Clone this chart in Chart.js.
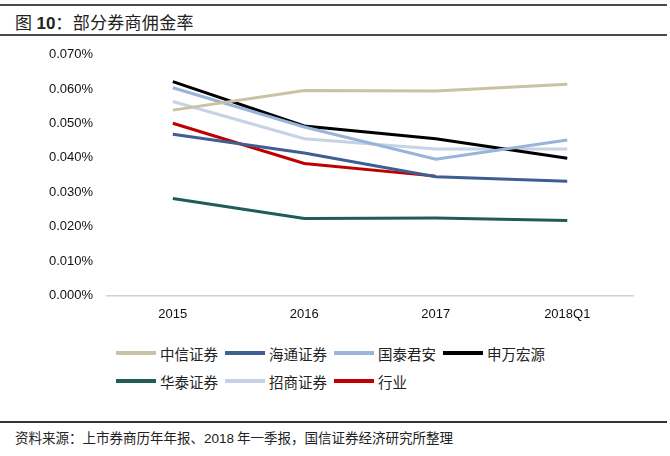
<!DOCTYPE html>
<html>
<head>
<meta charset="utf-8">
<script src="https://cdn.jsdelivr.net/npm/chart.js@4.4.1/dist/chart.umd.min.js"></script>
<style>
    body { margin:0; background:#fff; }
    #page { position:relative; width:670px; height:456px; background:#fff; overflow:hidden; font-family:"Noto Sans CJK SC", "Liberation Sans", sans-serif; color:#222; }
    .rule { position:absolute; left:0; width:667px; background:#4a4a4a; }
    #title { position:absolute; left:15px; top:8px; font-size:17px; line-height:28px; letter-spacing:0.3px; white-space:nowrap; }
    #title b { font-family:"Liberation Sans", Arial, sans-serif; font-weight:bold; letter-spacing:0; }
    #chart_box { position:absolute; left:0; top:33px; width:670px; height:300px; }
    #legend_box { position:absolute; left:116px; top:339px; width:440px; display:flex; flex-wrap:wrap; }
    .legend_item { display:flex; align-items:center; width:109px; height:28px; font-size:14.5px; white-space:nowrap; }
    .legend_line { display:inline-block; width:40px; height:4px; margin-right:4px; }
    #source { position:absolute; left:15px; top:427px; font-size:13.5px; line-height:20px; white-space:nowrap; }
    #source span { font-family:"Liberation Sans", Arial, sans-serif; }
</style>
</head>
<body>
<div id="page">
    <div class="rule" style="top:4px;height:2px;"></div>
    <div id="title">图 <b>10</b>：部分券商佣金率</div>
    <div class="rule" style="top:34px;height:2px;"></div>
    <div id="chart_box"><canvas id="chart_rate"></canvas></div>
    <div id="legend_box"></div>
    <div class="rule" style="top:421px;height:1.5px;background:#333;"></div>
    <div id="source">资料来源：上市券商历年年报、<span>2018</span> 年一季报，国信证券经济研究所整理</div>
</div>
<script>
var categories = ["2015", "2016", "2017", "2018Q1"];

// commission rate, %
var citic    = [0.0539, 0.0596, 0.0595, 0.0614];
var haitong  = [0.0469, 0.0414, 0.0345, 0.0332];
var gtja     = [0.0604, 0.0490, 0.0396, 0.0452];
var swhy     = [0.0622, 0.0493, 0.0456, 0.0399];
var huatai   = [0.0282, 0.0224, 0.0225, 0.0218];
var cms      = [0.0564, 0.0456, 0.0426, 0.0426];
var industry = [0.0501, 0.0384, 0.0347, null];

var yTicks = [0, 0.01, 0.02, 0.03, 0.04, 0.05, 0.06, 0.07];

var seriesList = [
    {name: "中信证券", data: citic,    color: "#c7c3a3"},
    {name: "海通证券", data: haitong,  color: "#3f5e92"},
    {name: "国泰君安", data: gtja,     color: "#98b4d8"},
    {name: "申万宏源", data: swhy,     color: "#000000"},
    {name: "华泰证券", data: huatai,   color: "#1f5c5a"},
    {name: "招商证券", data: cms,      color: "#c6d3e7"},
    {name: "行业",     data: industry, color: "#c00000"}
];

var datasets = [];
for (let s of seriesList) {
    datasets.push({
        label: s.name,
        data: s.data,
        borderColor: s.color,
        backgroundColor: s.color,
        borderWidth: 3,
        pointRadius: 0,
        pointHoverRadius: 0,
        tension: 0,
        fill: false,
        spanGaps: false
    });
}

// legend in two rows, built by hand
var legendBox = document.getElementById("legend_box");
for (let s of seriesList) {
    let item = document.createElement("span");
    item.className = "legend_item";
    let line = document.createElement("span");
    line.className = "legend_line";
    line.style.background = s.color;
    let text = document.createElement("span");
    text.innerText = s.name;
    item.appendChild(line);
    item.appendChild(text);
    legendBox.appendChild(item);
}

var chartOptions = {
    responsive: true,
    maintainAspectRatio: false,
    animation: false,
    layout: {
        padding: {left: 35, right: 37, top: 8, bottom: 0}
    },
    plugins: {
        legend: {display: false},
        tooltip: {enabled: false}
    },
    scales: {
        x: {
            type: "category",
            offset: true,
            grid: {display: false, drawTicks: false},
            border: {display: true, color: "#d0d0d0", width: 1.5},
            ticks: {
                color: "#111",
                padding: 11,
                font: {family: "Liberation Sans", size: 13}
            }
        },
        y: {
            min: 0,
            max: 0.07,
            afterBuildTicks: function (axis) {
                axis.ticks = yTicks.map(function (v) { return {value: v}; });
            },
            grid: {display: false, drawTicks: false},
            border: {display: false},
            ticks: {
                color: "#111",
                padding: 14,
                font: {family: "Liberation Sans", size: 13},
                callback: function (value) {
                    return value.toFixed(3) + "%";
                }
            }
        }
    }
};

new Chart(document.getElementById("chart_rate").getContext("2d"), {
    type: "line",
    data: {
        labels: categories,
        datasets: datasets
    },
    options: chartOptions
});
</script>
</body>
</html>
